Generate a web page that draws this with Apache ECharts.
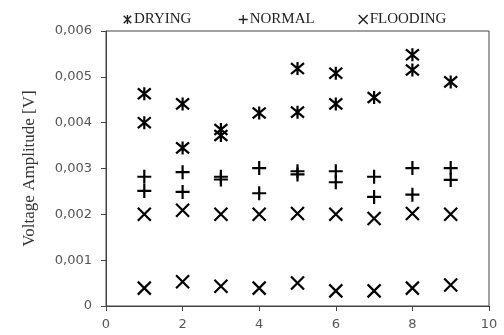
<!DOCTYPE html>
<html>
<head>
<meta charset="utf-8">
<script src="https://cdn.jsdelivr.net/npm/echarts@6/dist/echarts.min.js"></script>
<style>
  html, body { margin: 0; padding: 0; background: #fff; }
  #chart { width: 504px; height: 335px; }
</style>
</head>
<body>
<div id="chart"></div>
<script>
// readings per sample, x = sample number, y = amplitude in V
var dryingX = [1, 1, 2, 2, 3, 3, 4, 5, 5, 6, 6, 7, 8, 8, 9];
var dryingY = [0.00463, 0.00400, 0.00441, 0.00345, 0.00385, 0.00372, 0.00421, 0.00518, 0.00423,
               0.00508, 0.00441, 0.00455, 0.00548, 0.00515, 0.00489];

var normalX = [1, 1, 2, 2, 3, 3, 4, 4, 5, 5, 6, 6, 7, 7, 8, 8, 9, 9];
var normalY = [0.00282, 0.00251, 0.00292, 0.00249, 0.00282, 0.00276, 0.00301, 0.00246, 0.00294,
               0.00287, 0.00294, 0.00270, 0.00282, 0.00238, 0.00301, 0.00243, 0.00301, 0.00275];

var floodX = [1, 2, 3, 4, 5, 6, 7, 8, 9, 1, 2, 3, 4, 5, 6, 7, 8, 9];
var floodY = [0.00200, 0.00209, 0.00200, 0.00200, 0.00202, 0.00200, 0.00191, 0.00202, 0.00200,
              0.00039, 0.00053, 0.00043, 0.00039, 0.00050, 0.00033, 0.00033, 0.00039, 0.00046];

var seriesNames = ['DRYING', 'NORMAL', 'FLOODING'];

function pairs(xs, ys) {
  var out = [];
  for (var i = 0; i < xs.length; i++) out.push([xs[i], ys[i]]);
  return out;
}

// stroked marker shapes
var starPath = 'path://M0,0L10,10M10,0L0,10M5,-1L5,11';
var plusPath = 'path://M0,5L10,5M5,0L5,10';
var crossPath = 'path://M0,0L10,10M10,0L0,10';

var chart = echarts.init(document.getElementById('chart'));

function markerSeries(name, data, sym, size) {
  return {
    name: name,
    type: 'scatter',
    data: data,
    symbol: sym,
    symbolSize: size,
    itemStyle: { color: 'rgba(0,0,0,0)', borderColor: '#000', borderWidth: 2.2, opacity: 1 },
    emphasis: { disabled: true }
  };
}

// one legend box per entry so each sits where the original puts it
function legendBox(name, left) {
  return {
    top: 7,
    left: left,
    itemWidth: 9,
    itemHeight: 9,
    itemStyle: { borderWidth: 1.4, borderColor: '#222', opacity: 1 },
    textStyle: { fontFamily: 'Liberation Serif', fontSize: 15, color: '#222', padding: [0, 0, 0, -3] },
    data: [name]
  };
}

var option = {
  animation: false,
  legend: [
    legendBox(seriesNames[0], 118),
    legendBox(seriesNames[1], 233),
    legendBox(seriesNames[2], 353)
  ],
  grid: {
    left: 106,
    right: 15,
    top: 31,
    bottom: 29,
    show: true,
    borderColor: '#444',
    borderWidth: 1
  },
  xAxis: {
    type: 'value',
    min: 0,
    max: 10,
    interval: 2,
    splitLine: { show: false },
    axisLine: { lineStyle: { color: '#444' } },
    axisTick: { show: true, length: 5, lineStyle: { color: '#444' } },
    axisLabel: { color: '#555', fontFamily: 'DejaVu Sans', fontSize: 13, margin: 12 }
  },
  yAxis: {
    type: 'value',
    min: 0,
    max: 0.006,
    interval: 0.001,
    name: 'Voltage Amplitude [V]',
    nameLocation: 'middle',
    nameGap: 68,
    nameTextStyle: { fontFamily: 'Liberation Serif', fontSize: 17, color: '#333' },
    splitLine: { show: false },
    axisLine: { show: true, lineStyle: { color: '#444' } },
    axisTick: { show: true, length: 5, lineStyle: { color: '#444' } },
    axisLabel: {
      color: '#555',
      fontFamily: 'DejaVu Sans',
      fontSize: 13,
      margin: 14,
      formatter: function (v) {
        if (v === 0) return '0';
        return v.toFixed(3).replace('.', ',');
      }
    }
  },
  series: [
    markerSeries(seriesNames[0], pairs(dryingX, dryingY), starPath, 13),
    markerSeries(seriesNames[1], pairs(normalX, normalY), plusPath, 14),
    markerSeries(seriesNames[2], pairs(floodX, floodY), crossPath, 13)
  ]
};

chart.setOption(option);
window.addEventListener('resize', function () {
  chart.resize();
});
</script>
</body>
</html>
